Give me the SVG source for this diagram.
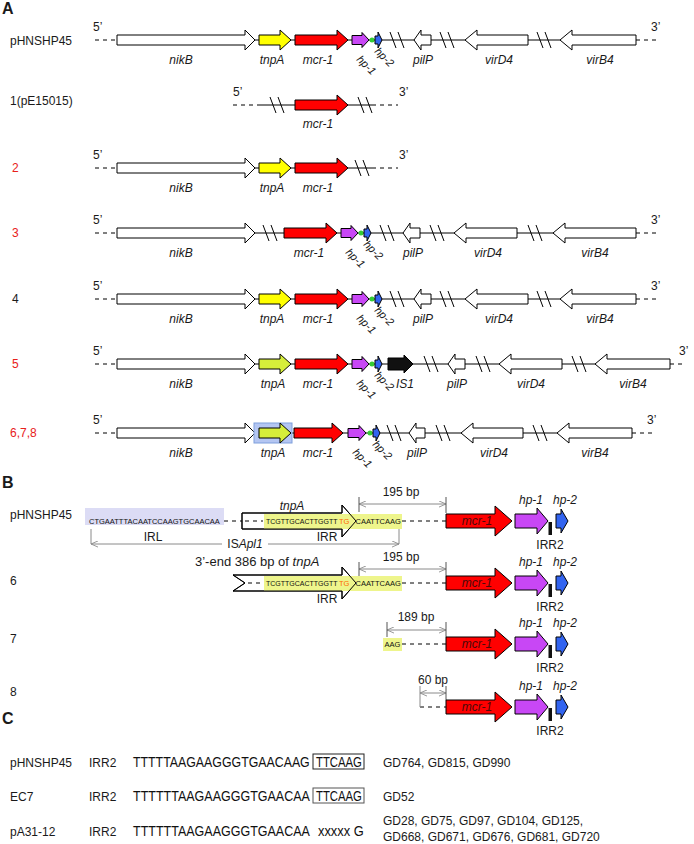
<svg xmlns="http://www.w3.org/2000/svg" width="694" height="844" viewBox="0 0 694 844">
<defs>
<style>
text{font-family:"Liberation Sans",Arial,sans-serif;fill:#1a1a1a}
.lb{font-size:12px}
.gi{font-size:12px;font-style:italic}
.rot{font-size:11px;font-style:italic}
.sec{font-size:16px;font-weight:bold}
.red{fill:#e8201a}
.g{stroke:#000;stroke-width:1}
.w{fill:#fff}.y{fill:#ffff00}.lm{fill:#d6ee3a}.m{fill:#ff0000}.p{fill:#c847f5}.b{fill:#3264f0}.k{fill:#111}.gr{fill:#33cc33}
.tr{stroke:#000;stroke-width:1;fill:none}
.da{stroke:#000;stroke-width:1;stroke-dasharray:4 4;fill:none}
.dm{stroke:#8a8a8a;stroke-width:1;fill:none}
.tk{stroke:#555;stroke-width:1;fill:none}
.seq{font-size:7.5px;fill:#111}
.seqs{font-size:7px;fill:#111}
.sq{font-size:14px;fill:#111}
.mt{font-size:12px;font-style:italic;fill:#4a0a0a}
.bx{fill:none;stroke:#222;stroke-width:1}
.og{fill:#ff6a00}
</style>
<marker id="ah" viewBox="0 0 8 8" refX="8" refY="4" markerWidth="7" markerHeight="7" orient="auto-start-reverse" markerUnits="userSpaceOnUse"><path d="M0,0.5 L8,4 L0,7.5" fill="none" stroke="#8a8a8a" stroke-width="1"/></marker>
<path id="brk" d="M-7,-8 L-1,8 M1,-8 L7,8" stroke="#000" stroke-width="1" fill="none"/>
</defs>
<rect width="694" height="844" fill="#fff"/>

<g id="connectors">
 <g transform="translate(0,40)"><path class="da" d="M95,0H117M636,0H657"/><path class="tr" d="M117,0H636"/><use href="#brk" x="397"/><use href="#brk" x="447"/><use href="#brk" x="544"/></g>
 <g transform="translate(0,105)"><path class="da" d="M233,0H258M372,0H398"/><path class="tr" d="M258,0H372"/><use href="#brk" x="277"/><use href="#brk" x="365"/></g>
 <g transform="translate(0,168)"><path class="da" d="M95,0H117M372,0H398"/><path class="tr" d="M117,0H372"/><use href="#brk" x="362"/></g>
 <g transform="translate(0,233)"><path class="da" d="M95,0H117M636,0H657"/><path class="tr" d="M117,0H636"/><use href="#brk" x="270"/><use href="#brk" x="387"/><use href="#brk" x="437"/><use href="#brk" x="535"/></g>
 <g transform="translate(0,299)"><path class="da" d="M95,0H117M636,0H657"/><path class="tr" d="M117,0H636"/><use href="#brk" x="397"/><use href="#brk" x="447"/><use href="#brk" x="544"/></g>
 <g transform="translate(0,364)"><path class="da" d="M95,0H117M670,0H686"/><path class="tr" d="M117,0H670"/><use href="#brk" x="431"/><use href="#brk" x="483"/><use href="#brk" x="579"/></g>
 <g transform="translate(0,433)"><path class="da" d="M95,0H117M632,0H653"/><path class="tr" d="M117,0H632"/><use href="#brk" x="394"/><use href="#brk" x="443"/><use href="#brk" x="540"/></g>
 <path class="da" d="M224,521H242M402,521H446"/>
 <path class="dm" d="M359,504H446" marker-start="url(#ah)" marker-end="url(#ah)"/>
 <path class="tk" d="M359,497V512M446,497V513"/>
 <path class="dm" d="M91,544H222" marker-start="url(#ah)"/>
 <path class="dm" d="M268,544H399" marker-end="url(#ah)"/>
 <path class="dm" d="M91,529V544M399,529V544"/>
 <path class="da" d="M402,583H446"/>
 <path class="dm" d="M359,569H446" marker-start="url(#ah)" marker-end="url(#ah)"/>
 <path class="tk" d="M359,562V576M446,562V576"/>
 <path class="da" d="M402,644H446"/>
 <path class="dm" d="M387,630H446" marker-start="url(#ah)" marker-end="url(#ah)"/>
 <path class="tk" d="M387,622V637M446,622V637"/>
 <path class="da" d="M420,707H446"/>
 <path class="dm" d="M420,686V707"/>
 <path class="dm" d="M420,693H446" marker-start="url(#ah)" marker-end="url(#ah)"/>
 <path class="tk" d="M446,686V700"/>
</g>

<text class="sec" x="2" y="14">A</text>
<text class="sec" x="2" y="488">B</text>
<text class="sec" x="2" y="724">C</text>

<g id="rowA0" transform="translate(0,40)">
 <text class="lb" x="10" y="5">pHNSHP45</text>
 <text class="lb" x="93" y="-9">5’</text><text class="lb" x="651" y="-9">3’</text>
 <g id="a0-nikB"><polygon class="g w" points="117,-5 245,-5 245,-10 255,0 245,10 245,5 117,5"/><text class="gi" x="181" y="24" text-anchor="middle">nikB</text></g>
 <g id="a0-tnpA"><polygon class="g y" points="259,-5 280,-5 280,-10 291,0 280,10 280,5 259,5"/><text class="gi" x="272" y="24" text-anchor="middle">tnpA</text></g>
 <g id="a0-mcr1"><polygon class="g m" points="295,-5 337,-5 337,-10 348,0 337,10 337,5 295,5"/><text class="gi" x="318" y="24" text-anchor="middle">mcr-1</text></g>
 <g id="a0-hp1"><polygon class="g p" points="352,-4.5 362,-4.5 362,-7.5 369,0 362,7.5 362,4.5 352,4.5"/><text class="rot" transform="translate(356,20) rotate(45)">hp-1</text></g>
 <circle class="gr" cx="372" cy="0" r="2.5"/>
 <g id="a0-hp2"><polygon class="g b" points="375,-4 378,-4 378,-8 382,0 378,8 378,4 375,4"/><text class="rot" transform="translate(374,12) rotate(45)">hp-2</text></g>
 <g id="a0-pilP"><polygon class="g w" points="414,0 421,-10 421,-5 431,-5 431,5 421,5 421,10"/><text class="gi" x="423" y="24" text-anchor="middle">pilP</text></g>
 <g id="a0-virD4"><polygon class="g w" points="465,0 477,-10 477,-5 528,-5 528,5 477,5 477,10"/><text class="gi" x="499" y="24" text-anchor="middle">virD4</text></g>
 <g id="a0-virB4"><polygon class="g w" points="560,0 572,-10 572,-5 636,-5 636,5 572,5 572,10"/><text class="gi" x="600" y="24" text-anchor="middle">virB4</text></g>
</g>

<g id="rowA1" transform="translate(0,105)">
 <text class="lb" x="10" y="0">1(pE15015)</text>
 <text class="lb" x="233" y="-9">5’</text><text class="lb" x="399" y="-9">3’</text>
 <g id="a1-mcr1"><polygon class="g m" points="295,-5 337,-5 337,-10 348,0 337,10 337,5 295,5"/><text class="gi" x="318" y="23" text-anchor="middle">mcr-1</text></g>
</g>

<g id="rowA2" transform="translate(0,168)">
 <text class="lb red" x="12" y="4">2</text>
 <text class="lb" x="93" y="-9">5’</text><text class="lb" x="399" y="-9">3’</text>
 <g id="a2-nikB"><polygon class="g w" points="117,-5 245,-5 245,-10 255,0 245,10 245,5 117,5"/><text class="gi" x="181" y="24" text-anchor="middle">nikB</text></g>
 <g id="a2-tnpA"><polygon class="g y" points="259,-5 280,-5 280,-10 291,0 280,10 280,5 259,5"/><text class="gi" x="272" y="24" text-anchor="middle">tnpA</text></g>
 <g id="a2-mcr1"><polygon class="g m" points="295,-5 337,-5 337,-10 348,0 337,10 337,5 295,5"/><text class="gi" x="318" y="24" text-anchor="middle">mcr-1</text></g>
</g>

<g id="rowA3" transform="translate(0,233)">
 <text class="lb red" x="12" y="4">3</text>
 <text class="lb" x="93" y="-9">5’</text><text class="lb" x="651" y="-9">3’</text>
 <g id="a3-nikB"><polygon class="g w" points="117,-5 245,-5 245,-10 255,0 245,10 245,5 117,5"/><text class="gi" x="181" y="24" text-anchor="middle">nikB</text></g>
 <g id="a3-mcr1"><polygon class="g m" points="284,-5 326,-5 326,-10 337,0 326,10 326,5 284,5"/><text class="gi" x="309" y="24" text-anchor="middle">mcr-1</text></g>
 <g id="a3-hp1"><polygon class="g p" points="341,-4.5 351,-4.5 351,-7.5 358,0 351,7.5 351,4.5 341,4.5"/><text class="rot" transform="translate(345,20) rotate(45)">hp-1</text></g>
 <circle class="gr" cx="361" cy="0" r="2.5"/>
 <g id="a3-hp2"><polygon class="g b" points="364,-4 367,-4 367,-8 371,0 367,8 367,4 364,4"/><text class="rot" transform="translate(363,12) rotate(45)">hp-2</text></g>
 <g id="a3-pilP"><polygon class="g w" points="403,0 410,-10 410,-5 420,-5 420,5 410,5 410,10"/><text class="gi" x="413" y="24" text-anchor="middle">pilP</text></g>
 <g id="a3-virD4"><polygon class="g w" points="454,0 466,-10 466,-5 517,-5 517,5 466,5 466,10"/><text class="gi" x="488" y="24" text-anchor="middle">virD4</text></g>
 <g id="a3-virB4"><polygon class="g w" points="553,0 565,-10 565,-5 636,-5 636,5 565,5 565,10"/><text class="gi" x="595" y="24" text-anchor="middle">virB4</text></g>
</g>

<g id="rowA4" transform="translate(0,299)">
 <text class="lb" x="12" y="4">4</text>
 <text class="lb" x="93" y="-9">5’</text><text class="lb" x="651" y="-9">3’</text>
 <g id="a4-nikB"><polygon class="g w" points="117,-5 245,-5 245,-10 255,0 245,10 245,5 117,5"/><text class="gi" x="181" y="24" text-anchor="middle">nikB</text></g>
 <g id="a4-tnpA"><polygon class="g y" points="259,-5 280,-5 280,-10 291,0 280,10 280,5 259,5"/><text class="gi" x="272" y="24" text-anchor="middle">tnpA</text></g>
 <g id="a4-mcr1"><polygon class="g m" points="295,-5 337,-5 337,-10 348,0 337,10 337,5 295,5"/><text class="gi" x="318" y="24" text-anchor="middle">mcr-1</text></g>
 <g id="a4-hp1"><polygon class="g p" points="352,-4.5 362,-4.5 362,-7.5 369,0 362,7.5 362,4.5 352,4.5"/><text class="rot" transform="translate(356,20) rotate(45)">hp-1</text></g>
 <circle class="gr" cx="372" cy="0" r="2.5"/>
 <g id="a4-hp2"><polygon class="g b" points="375,-4 378,-4 378,-8 382,0 378,8 378,4 375,4"/><text class="rot" transform="translate(374,12) rotate(45)">hp-2</text></g>
 <g id="a4-pilP"><polygon class="g w" points="414,0 421,-10 421,-5 431,-5 431,5 421,5 421,10"/><text class="gi" x="423" y="24" text-anchor="middle">pilP</text></g>
 <g id="a4-virD4"><polygon class="g w" points="465,0 477,-10 477,-5 528,-5 528,5 477,5 477,10"/><text class="gi" x="499" y="24" text-anchor="middle">virD4</text></g>
 <g id="a4-virB4"><polygon class="g w" points="560,0 572,-10 572,-5 636,-5 636,5 572,5 572,10"/><text class="gi" x="600" y="24" text-anchor="middle">virB4</text></g>
</g>

<g id="rowA5" transform="translate(0,364)">
 <text class="lb red" x="12" y="4">5</text>
 <text class="lb" x="93" y="-9">5’</text><text class="lb" x="679" y="-9">3’</text>
 <g id="a5-nikB"><polygon class="g w" points="117,-5 245,-5 245,-10 255,0 245,10 245,5 117,5"/><text class="gi" x="181" y="24" text-anchor="middle">nikB</text></g>
 <g id="a5-tnpA"><polygon class="g lm" points="259,-5 280,-5 280,-10 291,0 280,10 280,5 259,5"/><text class="gi" x="273" y="24" text-anchor="middle">tnpA</text></g>
 <g id="a5-mcr1"><polygon class="g m" points="295,-5 337,-5 337,-10 348,0 337,10 337,5 295,5"/><text class="gi" x="318" y="24" text-anchor="middle">mcr-1</text></g>
 <g id="a5-hp1"><polygon class="g p" points="352,-4.5 362,-4.5 362,-7.5 369,0 362,7.5 362,4.5 352,4.5"/><text class="rot" transform="translate(356,20) rotate(45)">hp-1</text></g>
 <circle class="gr" cx="372" cy="0" r="2.5"/>
 <g id="a5-hp2"><polygon class="g b" points="375,-4 378,-4 378,-8 382,0 378,8 378,4 375,4"/><text class="rot" transform="translate(374,12) rotate(45)">hp-2</text></g>
 <g id="a5-IS1"><polygon class="g k" points="388,-6 404,-6 404,-9 413,0 404,9 404,6 388,6"/><text class="gi" x="405" y="24" text-anchor="middle">IS1</text></g>
 <g id="a5-pilP"><polygon class="g w" points="448,0 455,-10 455,-5 465,-5 465,5 455,5 455,10"/><text class="gi" x="457" y="24" text-anchor="middle">pilP</text></g>
 <g id="a5-virD4"><polygon class="g w" points="499,0 511,-10 511,-5 562,-5 562,5 511,5 511,10"/><text class="gi" x="531" y="24" text-anchor="middle">virD4</text></g>
 <g id="a5-virB4"><polygon class="g w" points="595,0 607,-10 607,-5 670,-5 670,5 607,5 607,10"/><text class="gi" x="633" y="24" text-anchor="middle">virB4</text></g>
</g>

<g id="rowA6" transform="translate(0,433)">
 <text class="lb red" x="10" y="4">6,7,8</text>
 <text class="lb" x="93" y="-9">5’</text><text class="lb" x="647" y="-9">3’</text>
 <g id="a6-nikB"><polygon class="g w" points="117,-5 245,-5 245,-10 255,0 245,10 245,5 117,5"/><text class="gi" x="181" y="24" text-anchor="middle">nikB</text></g>
 <g id="a6-tnpA"><rect x="254" y="-10" width="38" height="20" fill="#b4c6f2" stroke="#7f9fdc" stroke-width="1"/><polygon class="g lm" points="259,-5 280,-5 280,-10 291,0 280,10 280,5 259,5"/><text class="gi" x="273" y="24" text-anchor="middle">tnpA</text></g>
 <g id="a6-mcr1"><polygon class="g m" points="294,-5 332,-5 332,-10 343,0 332,10 332,5 294,5"/><text class="gi" x="318" y="24" text-anchor="middle">mcr-1</text></g>
 <g id="a6-hp1"><polygon class="g p" points="348,-4.5 359,-4.5 359,-7.5 366,0 359,7.5 359,4.5 348,4.5"/><text class="rot" transform="translate(352,20) rotate(45)">hp-1</text></g>
 <circle class="gr" cx="370" cy="0" r="2.5"/>
 <g id="a6-hp2"><polygon class="g b" points="373,-4 376,-4 376,-8 380,0 376,8 376,4 373,4"/><text class="rot" transform="translate(372,12) rotate(45)">hp-2</text></g>
 <g id="a6-pilP"><polygon class="g w" points="409,0 416,-10 416,-5 425,-5 425,5 416,5 416,10"/><text class="gi" x="417" y="24" text-anchor="middle">pilP</text></g>
 <g id="a6-virD4"><polygon class="g w" points="461,0 473,-10 473,-5 523,-5 523,5 473,5 473,10"/><text class="gi" x="494" y="24" text-anchor="middle">virD4</text></g>
 <g id="a6-virB4"><polygon class="g w" points="557,0 569,-10 569,-5 632,-5 632,5 569,5 569,10"/><text class="gi" x="595" y="24" text-anchor="middle">virB4</text></g>
</g>

<g id="rowB0">
 <text class="lb" x="10" y="519">pHNSHP45</text>
 <g id="b0-IRL"><rect x="85" y="508" width="139" height="17" fill="#dcdcf5"/><text class="seq" x="89" y="524">CTGAATTTACAATCCAAGTGCAACAA</text></g>
 <g id="b0-tnpA">
  <polygon class="g w" points="242,513 342,513 342,505 356,521 342,537 342,529 242,529"/>
  <path class="da" d="M245,521H263"/>
  <rect x="264" y="514" width="138" height="15" fill="#eef58c"/>
  <polygon class="g" fill="none" points="242,513 342,513 342,505 356,521 342,537 342,529 242,529"/>
  <text class="seqs" x="266" y="524">TCGTTGCACTTGGTT</text>
  <text class="seq og" x="339" y="524">TG</text>
  <text class="seq" x="355.5" y="524">CAATTCAAG</text>
  <text class="gi" x="292" y="510" text-anchor="middle">tnpA</text>
 </g>
 <text class="lb" x="153" y="541" text-anchor="middle">IRL</text>
 <text class="lb" x="327" y="541" text-anchor="middle">IRR</text>
 <text class="lb" x="245" y="548" text-anchor="middle">IS<tspan font-style="italic">Apl1</tspan></text>
 <text class="lb" x="401" y="496" text-anchor="middle">195 bp</text>
 <g id="b0-mcr1"><polygon class="g m" points="446,514 495,514 495,506 512,521 495,536 495,528 446,528"/><text class="mt" x="477" y="525" text-anchor="middle">mcr-1</text></g>
 <g id="b0-hp1"><polygon class="g p" points="515,514 537,514 537,508 548,521 537,534 537,528 515,528"/><text class="gi" x="531" y="504" text-anchor="middle">hp-1</text></g>
 <g id="b0-IRR2"><rect x="548.5" y="522" width="3.5" height="13" fill="#111"/><text class="lb" x="550" y="549" text-anchor="middle">IRR2</text></g>
 <g id="b0-hp2"><polygon class="g b" points="556,514 561,514 561,509 568,521 561,533 561,528 556,528"/><text class="gi" x="565" y="504" text-anchor="middle">hp-2</text></g>
</g>

<g id="rowB6">
 <text class="lb" x="10" y="585">6</text>
 <text x="195" y="566" style="font-size:13px">3’-end 386 bp of <tspan font-style="italic">tnpA</tspan></text>
 <g id="b6-tnpA">
  <polygon class="g w" points="233,575 342,575 342,567 356,583 342,599 342,591 233,591 245,583"/>
  <path class="da" d="M248,583H263"/>
  <rect x="264" y="576" width="138" height="15" fill="#eef58c"/>
  <polygon class="g" fill="none" points="233,575 342,575 342,567 356,583 342,599 342,591 233,591 245,583"/>
  <text class="seqs" x="266" y="586">TCGTTGCACTTGGTT</text>
  <text class="seq og" x="339" y="586">TG</text>
  <text class="seq" x="355.5" y="586">CAATTCAAG</text>
 </g>
 <text class="lb" x="327" y="603" text-anchor="middle">IRR</text>
 <text class="lb" x="401" y="561" text-anchor="middle">195 bp</text>
 <g id="b6-mcr1"><polygon class="g m" points="446,576 495,576 495,568 512,583 495,598 495,590 446,590"/><text class="mt" x="477" y="587" text-anchor="middle">mcr-1</text></g>
 <g id="b6-hp1"><polygon class="g p" points="515,576 537,576 537,570 548,583 537,596 537,590 515,590"/><text class="gi" x="531" y="566" text-anchor="middle">hp-1</text></g>
 <g id="b6-IRR2"><rect x="548.5" y="584" width="3.5" height="13" fill="#111"/><text class="lb" x="550" y="611" text-anchor="middle">IRR2</text></g>
 <g id="b6-hp2"><polygon class="g b" points="556,576 561,576 561,571 568,583 561,595 561,590 556,590"/><text class="gi" x="565" y="566" text-anchor="middle">hp-2</text></g>
</g>

<g id="rowB7">
 <text class="lb" x="10" y="643">7</text>
 <g id="b7-AAG"><rect x="383" y="638" width="19" height="13" fill="#eef58c"/><text class="seq" x="384.5" y="647">AAG</text></g>
 <text class="lb" x="416" y="621" text-anchor="middle">189 bp</text>
 <g id="b7-mcr1"><polygon class="g m" points="446,637 495,637 495,629 512,644 495,659 495,651 446,651"/><text class="mt" x="477" y="648" text-anchor="middle">mcr-1</text></g>
 <g id="b7-hp1"><polygon class="g p" points="515,637 537,637 537,631 548,644 537,657 537,651 515,651"/><text class="gi" x="531" y="627" text-anchor="middle">hp-1</text></g>
 <g id="b7-IRR2"><rect x="548.5" y="645" width="3.5" height="13" fill="#111"/><text class="lb" x="550" y="672" text-anchor="middle">IRR2</text></g>
 <g id="b7-hp2"><polygon class="g b" points="556,637 561,637 561,632 568,644 561,656 561,651 556,651"/><text class="gi" x="565" y="627" text-anchor="middle">hp-2</text></g>
</g>

<g id="rowB8">
 <text class="lb" x="10" y="696">8</text>
 <text class="lb" x="433" y="684" text-anchor="middle">60 bp</text>
 <g id="b8-mcr1"><polygon class="g m" points="446,700 495,700 495,692 512,707 495,722 495,714 446,714"/><text class="mt" x="477" y="711" text-anchor="middle">mcr-1</text></g>
 <g id="b8-hp1"><polygon class="g p" points="515,700 537,700 537,694 548,707 537,720 537,714 515,714"/><text class="gi" x="531" y="690" text-anchor="middle">hp-1</text></g>
 <g id="b8-IRR2"><rect x="548.5" y="708" width="3.5" height="13" fill="#111"/><text class="lb" x="550" y="735" text-anchor="middle">IRR2</text></g>
 <g id="b8-hp2"><polygon class="g b" points="556,700 561,700 561,695 568,707 561,719 561,714 556,714"/><text class="gi" x="565" y="690" text-anchor="middle">hp-2</text></g>
</g>

<g id="rowC1">
 <text class="lb" x="10" y="767">pHNSHP45</text>
 <text class="lb" x="89" y="767">IRR2</text>
 <text class="sq" transform="translate(133,767) scale(0.883,1)">TTTTTAAGAAGGGTGAACAAG</text>
 <rect class="bx" x="313" y="754" width="51" height="15"/>
 <text class="sq" transform="translate(316,767) scale(0.81,1)">TTCAAG</text>
 <text class="lb" x="383" y="767">GD764, GD815, GD990</text>
</g>
<g id="rowC2">
 <text class="lb" x="10" y="801">EC7</text>
 <text class="lb" x="89" y="801">IRR2</text>
 <text class="sq" transform="translate(133,801) scale(0.894,1)">TTTTTTAAGAAGGGTGAACAA</text>
 <rect class="bx" x="313" y="788" width="51" height="15" style="stroke:#555"/>
 <text class="sq" transform="translate(316,801) scale(0.81,1)">TTCAAG</text>
 <text class="lb" x="383" y="801">GD52</text>
</g>
<g id="rowC3">
 <text class="lb" x="10" y="836">pA31-12</text>
 <text class="lb" x="89" y="836">IRR2</text>
 <text class="sq" transform="translate(133,836) scale(0.894,1)">TTTTTTAAGAAGGGTGAACAA</text>
 <text class="sq" transform="translate(318,836) scale(0.92,1)">xxxxx G</text>
 <text class="lb" x="383" y="825">GD28, GD75, GD97, GD104, GD125,</text>
 <text class="lb" x="383" y="841">GD668, GD671, GD676, GD681, GD720</text>
</g>
</svg>
